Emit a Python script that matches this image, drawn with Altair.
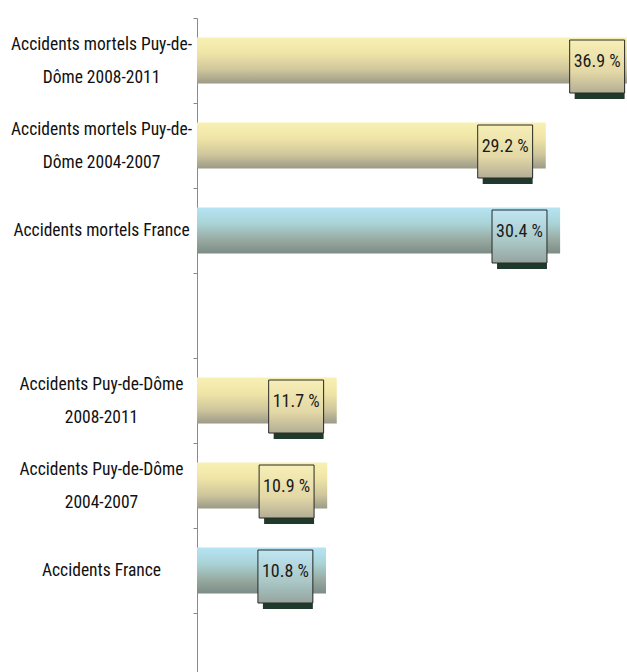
import altair as alt
import pandas as pd

# ---- data -------------------------------------------------------------
categories = [
    "Accidents mortels Puy-de-|Dôme 2008-2011",
    "Accidents mortels Puy-de-|Dôme 2004-2007",
    "Accidents mortels France",
    " ",
    "Accidents Puy-de-Dôme|2008-2011",
    "Accidents Puy-de-Dôme|2004-2007",
    "Accidents France",
    "  ",
]
values = [36.9, 29.2, 30.4, None, 11.7, 10.9, 10.8, None]
groups = ["Puy-de-Dôme", "Puy-de-Dôme", "France", None,
          "Puy-de-Dôme", "Puy-de-Dôme", "France", None]

df = pd.DataFrame({"cat": categories, "value": values, "group": groups})
df = df.dropna(subset=["value"])

FONT = "Liberation Sans Narrow, Arial Narrow, Roboto Condensed, DejaVu Sans Condensed, sans-serif"

def grad(stops):
    return alt.Gradient(
        gradient="linear",
        stops=[alt.GradientStop(color=c, offset=o) for o, c in stops],
        x1=0, x2=0, y1=0, y2=1,
    )

yellow_bar = grad([(0, "#f8f1b4"), (0.35, "#efe4a6"), (0.7, "#cfc69c"), (1, "#9c9a88")])
blue_bar = grad([(0, "#b6e4f4"), (0.35, "#a9d3d6"), (0.7, "#98aaa2"), (1, "#7d8c86")])
yellow_box = grad([(0, "#f7efb6"), (0.6, "#e3d8a6"), (1, "#b3ad95")])
blue_box = grad([(0, "#bfe6f3"), (0.6, "#a9c7c6"), (1, "#95a49e")])

yscale = alt.Scale(domain=categories, paddingInner=0.46, paddingOuter=0.23)
xscale = alt.Scale(domain=[0, 36], nice=False, zero=True)

base = alt.Chart(df).encode(
    y=alt.Y("cat:N", scale=yscale, sort=None,
            axis=alt.Axis(
                title=None,
                labelExpr="split(datum.label, '|')",
                labelAlign="center",
                labelBaseline="middle",
                labelPadding=92,
                labelFont=FONT,
                labelFontSize=17.5,
                labelColor="#111111",
                labelLineHeight=33,
                labelLimit=0,
                tickOffset=-42.5,
                labelOffset={"condition": {"test": "indexof(datum.value, '|') >= 0",
                                           "value": 26},
                             "value": 42.5},
                domainColor="#8a8a8a",
                domainWidth=1,
                tickColor="#8a8a8a",
                tickSize=4,
                grid=False,
            )),
)

bars_y = base.transform_filter(alt.datum.group == "Puy-de-Dôme").mark_bar(
    color=yellow_bar, clip=True).encode(x=alt.X("value:Q", scale=xscale, axis=None))
bars_b = base.transform_filter(alt.datum.group == "France").mark_bar(
    color=blue_bar, clip=True).encode(x=alt.X("value:Q", scale=xscale, axis=None))

boxbase = base.transform_calculate(
    x1="datum.value - 5.7", x2="datum.value - 1.1"
)

shadow = boxbase.mark_rect(height=53, xOffset=5, yOffset=12, color="#1f3a2b").encode(
    x=alt.X("x1:Q", scale=xscale, axis=None), x2="x2:Q")

box_y = boxbase.transform_filter(alt.datum.group == "Puy-de-Dôme").mark_rect(
    height=53, yOffset=6, color=yellow_box, stroke="#2a2a2a", strokeWidth=1
).encode(x=alt.X("x1:Q", scale=xscale, axis=None), x2="x2:Q")
box_b = boxbase.transform_filter(alt.datum.group == "France").mark_rect(
    height=53, yOffset=6, color=blue_box, stroke="#2a2a2a", strokeWidth=1
).encode(x=alt.X("x1:Q", scale=xscale, axis=None), x2="x2:Q")

labels = boxbase.transform_calculate(
    xc="datum.value - 3.4",
    txt="format(datum.value, '.1f') + ' %'",
).mark_text(font=FONT, fontSize=18, color="#1a1a1a", align="center",
            baseline="middle", yOffset=1).encode(
    x=alt.X("xc:Q", scale=xscale, axis=None), text="txt:N")

chart = alt.layer(bars_y, bars_b, shadow, box_y, box_b, labels).properties(
    width=430, height=680,
    autosize=alt.AutoSizeParams(type="none"),
    padding={"left": 197, "top": 18, "right": 0, "bottom": 0},
    background="white",
).configure_view(stroke=None)

chart.save("out.html", embed_options={"renderer": "svg", "actions": False})
